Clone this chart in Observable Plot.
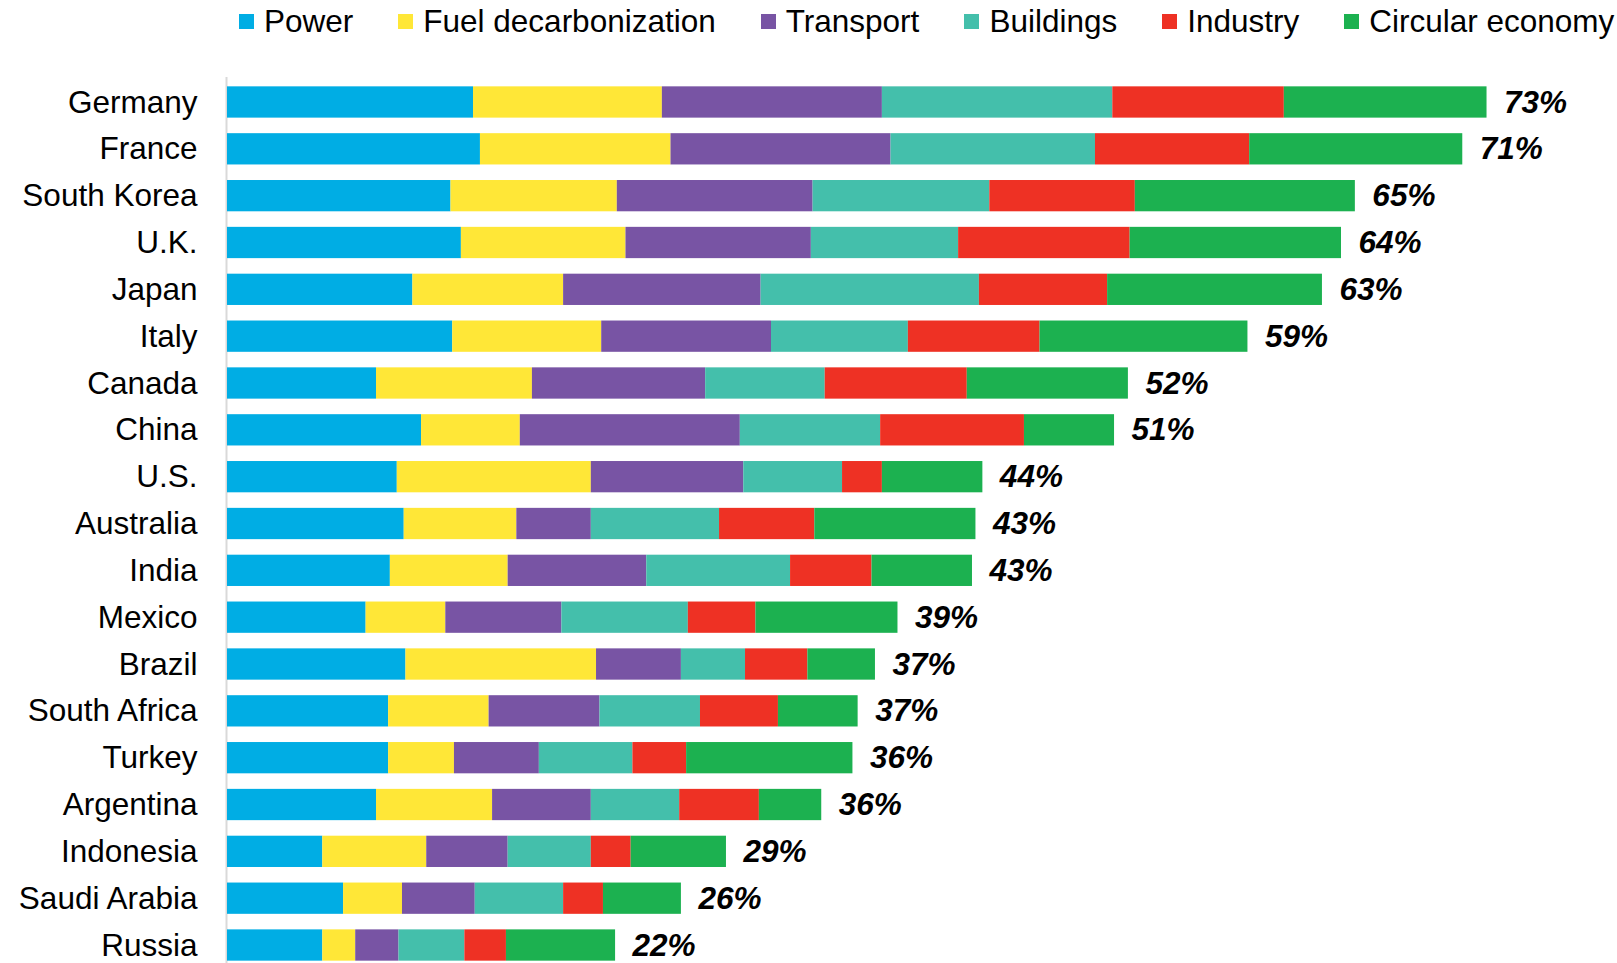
<!DOCTYPE html>
<html>
<head>
<meta charset="utf-8">
<script src="https://cdn.jsdelivr.net/npm/d3@7"></script>
<script src="https://cdn.jsdelivr.net/npm/@observablehq/plot@0.6"></script>
<style>
  html, body { margin: 0; padding: 0; background: #fff; overflow: hidden; }
  body { width: 1617px; height: 963px; font-family: "Liberation Sans", Arial, sans-serif; }
  #chart { position: relative; width: 1617px; height: 963px; }
  #chart > svg { position: absolute; left: 0; top: 0; max-width: none !important; }
  #chart > .lg-swatches { position: absolute; left: 0; top: 0; z-index: 2; }
  .lg-swatches-wrap .lg-swatch { margin-right: 45px !important; }
  .lg-swatch > svg { margin-right: 10px !important; }
</style>
</head>
<body>
<div id="chart"></div>
<script>
const countries = ["Germany","France","South Korea","U.K.","Japan","Italy","Canada","China","U.S.","Australia","India","Mexico","Brazil","South Africa","Turkey","Argentina","Indonesia","Saudi Arabia","Russia"];
const sectors = ["Power","Fuel decarbonization","Transport","Buildings","Industry","Circular economy"];
const sectorColors = ["#00ade4","#ffe737","#7854a4","#44bfab","#ee3124","#1cb150"];

const power     = [14.2,14.6,12.9,13.5,10.7,13.0, 8.6,11.2, 9.8,10.2, 9.4, 8.0,10.3, 9.3, 9.3, 8.6, 5.5, 6.7, 5.5];
const fuel      = [10.9,11.0, 9.6, 9.5, 8.7, 8.6, 9.0, 5.7,11.2, 6.5, 6.8, 4.6,11.0, 5.8, 3.8, 6.7, 6.0, 3.4, 1.9];
const transport = [12.7,12.7,11.3,10.7,11.4, 9.8,10.0,12.7, 8.8, 4.3, 8.0, 6.7, 4.9, 6.4, 4.9, 5.7, 4.7, 4.2, 2.5];
const buildings = [13.3,11.8,10.2, 8.5,12.6, 7.9, 6.9, 8.1, 5.7, 7.4, 8.3, 7.3, 3.7, 5.8, 5.4, 5.1, 4.8, 5.1, 3.8];
const industry  = [ 9.9, 8.9, 8.4, 9.9, 7.4, 7.6, 8.2, 8.3, 2.3, 5.5, 4.7, 3.9, 3.6, 4.5, 3.1, 4.6, 2.3, 2.3, 2.4];
const circular  = [11.7,12.3,12.7,12.2,12.4,12.0, 9.3, 5.2, 5.8, 9.3, 5.8, 8.2, 3.9, 4.6, 9.6, 3.6, 5.5, 4.5, 6.3];
const totalLabels = ["73%","71%","65%","64%","63%","59%","52%","51%","44%","43%","43%","39%","37%","37%","36%","36%","29%","26%","22%"];

const seriesValues = [power, fuel, transport, buildings, industry, circular];
const rows = [];
sectors.forEach((s, si) => {
  countries.forEach((c, ci) => rows.push({country: c, sector: s, value: seriesValues[si][ci]}));
});
const totals = countries.map((c, ci) => ({
  country: c,
  total: d3.sum(seriesValues, v => v[ci]),
  label: totalLabels[ci]
}));

const font = "'Liberation Sans', Arial, Helvetica, sans-serif";

const legend = Plot.legend({
  color: {type: "ordinal", domain: sectors, range: sectorColors},
  swatchSize: 15,
  className: "lg",
  style: {fontSize: "31.5px", fontFamily: font, color: "#000", marginLeft: "239px", marginBottom: "0", height: "42px", whiteSpace: "nowrap", flexWrap: "nowrap", background: "transparent"}
});

const chart = Plot.plot({
  width: 1617,
  height: 963,
  marginLeft: 227,
  marginRight: 4,
  marginTop: 84,
  marginBottom: 0,
  style: {fontSize: "31.5px", fontFamily: font, color: "#000", background: "#fff"},
  x: {domain: [0, 80], axis: null},
  y: {domain: countries, paddingInner: 0.332, paddingOuter: 0.05, round: false, label: null},
  color: {domain: sectors, range: sectorColors},
  marks: [
    Plot.ruleX([0], {stroke: "#d9d9d9", strokeWidth: 2, insetTop: -7, dx: -1}),
    Plot.barX(rows, Plot.stackX({x: "value", y: "country", fill: "sector"})),
    Plot.text(totals, {x: "total", y: "country", text: "label", textAnchor: "start", dx: 17, fontWeight: "bold", fontStyle: "italic", fontSize: 31.5, fill: "#000"}),
    Plot.axisY({tickSize: 0, tickPadding: 30, fontSize: 31.5, label: null})
  ]
});

const root = document.getElementById("chart");
root.appendChild(chart);
root.appendChild(legend);
</script>
</body>
</html>
